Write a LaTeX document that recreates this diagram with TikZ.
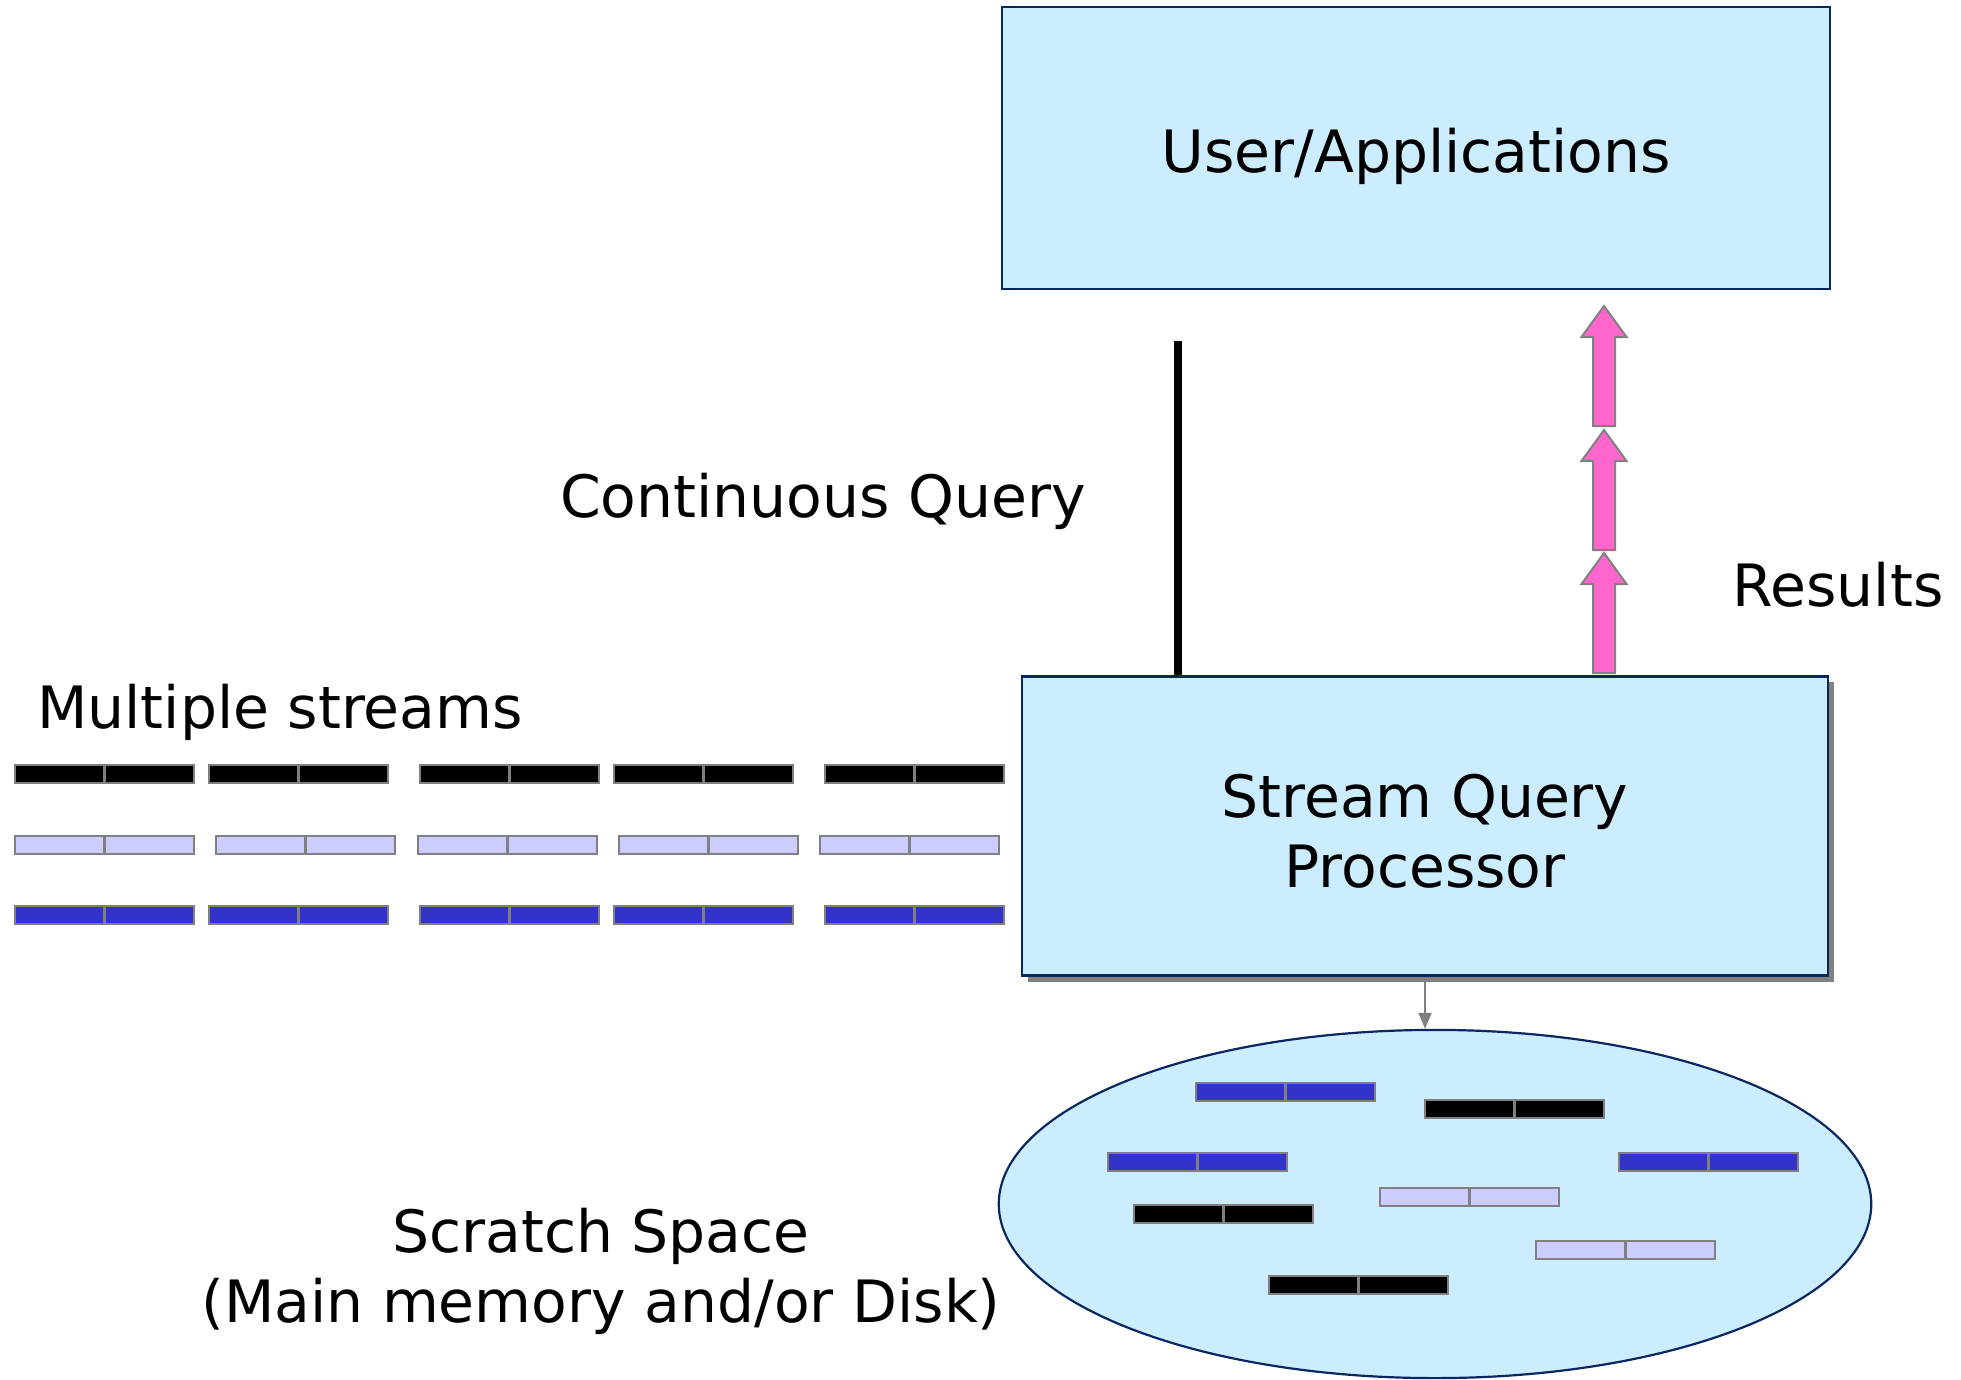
\documentclass[tikz,border=0pt]{standalone}
\usepackage{fontspec}
\setmainfont{DejaVu Sans}
\usetikzlibrary{shapes.geometric,shadows,arrows.meta}

\definecolor{boxfill}{HTML}{CCECFF}
\definecolor{boxline}{HTML}{0B2762}
\definecolor{cellline}{HTML}{808080}
\definecolor{lavender}{HTML}{CCCCFF}
\definecolor{streamblue}{HTML}{3333CC}
\definecolor{resultpink}{HTML}{FF66CC}

\newcommand\diagfont{\fontsize{16.6}{19.9}\selectfont}

\tikzset{
  box/.style={draw=boxline, line width=0.022cm, fill=boxfill, inner sep=0pt,
    align=center, font=\diagfont},
  txt/.style={inner sep=0pt, align=center, font=\diagfont},
  % a stream tuple: two cells side by side, anchored at its top-left corner
  pics/tuple/.style={code={
    \draw[draw=cellline, line width=0.025cm, fill=#1]
      (0,0) rectangle (89.5,18) (89.5,0) rectangle (179,18);}},
  % block arrow pointing up, tip at the pic origin
  pics/resultarrow/.style={code={
    \draw[draw=cellline, line width=0.02cm, fill=resultpink, line join=miter]
      (0,0) -- (22.5,31) -- (11,31) -- (11,120) -- (-11,120) -- (-11,31)
      -- (-22.5,31) -- cycle;}},
}

\begin{document}
\begin{tikzpicture}[x=0.01cm, y=-0.01cm]
\useasboundingbox (0,0) rectangle (1961,1379);

% main components
\node[box, minimum width=8.28cm, minimum height=2.82cm] (user) at (1416,148) {};
\node[txt] (usertext) at (1416,156) {User/Applications};
\node[box, minimum width=8.05cm, minimum height=2.99cm,
  drop shadow={shadow xshift=0.06cm, shadow yshift=-0.06cm, fill=cellline, opacity=1}]
  (proc) at (1425,826) {};
\node[txt] (proctext) at (1425,831) {Stream Query\\Processor};
\node[ellipse, draw=boxline, line width=0.022cm, fill=boxfill, inner sep=0pt,
  minimum width=8.72cm, minimum height=3.48cm] (scratch) at (1435,1204) {};

% labels
\node[txt] (cq) at (823,501) {Continuous Query};
\node[txt] (res) at (1838,585) {Results};
\node[txt] (ms) at (280,712) {Multiple streams};
\node[txt] (ss) at (601,1271) {Scratch Space\\(Main memory and/or Disk)};

% continuous query feeding the processor
\coordinate (qtop) at (1178,341);
\draw[line width=0.08cm] (qtop) -- (qtop |- proc.north);

% processor uses the scratch space
\draw[cellline, line width=0.02cm, -{Triangle[length=0.16cm, width=0.13cm]}]
  (proc.south) -- (proc.south |- scratch.north);

% results flowing up to the applications
\foreach \ty in {306,430,553}
  \pic at (1604,\ty) {resultarrow};

% incoming streams
\foreach \sx in {15,209,420,614,825}
  \pic at (\sx,765) {tuple=black};
\foreach \sx in {15,216,418,619,820}
  \pic at (\sx,836) {tuple=lavender};
\foreach \sx in {15,209,420,614,825}
  \pic at (\sx,906) {tuple=streamblue};

% tuples held in the scratch space
\pic at (1196,1083) {tuple=streamblue};
\pic at (1425,1100) {tuple=black};
\pic at (1108,1153) {tuple=streamblue};
\pic at (1619,1153) {tuple=streamblue};
\pic at (1380,1188) {tuple=lavender};
\pic at (1134,1205) {tuple=black};
\pic at (1536,1241) {tuple=lavender};
\pic at (1269,1276) {tuple=black};
\end{tikzpicture}
\end{document}
